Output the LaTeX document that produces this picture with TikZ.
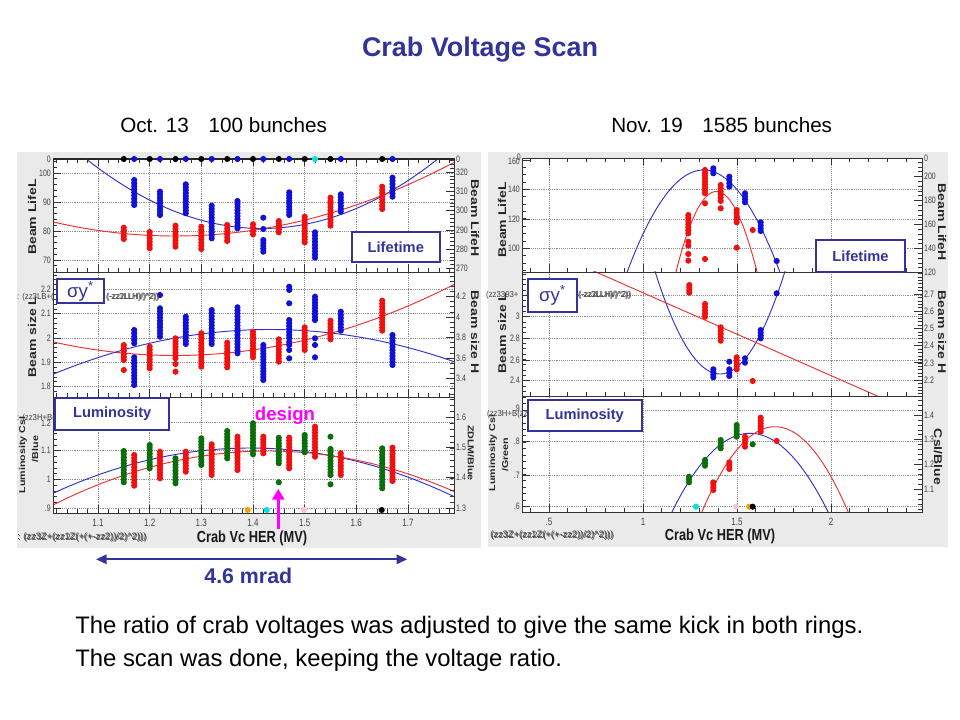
\documentclass[tikz,border=0pt]{standalone}
\usepackage{fontspec}
\setmainfont{Liberation Sans}
\usetikzlibrary{arrows.meta}
\definecolor{dkblue}{HTML}{333399}
\definecolor{panelgray}{HTML}{EAEAEA}
\definecolor{ptred}{HTML}{F01010}
\definecolor{ptblue}{HTML}{1010D8}
\definecolor{ptgreen}{HTML}{0A6E0A}
\definecolor{fitblue}{HTML}{3030D0}
\definecolor{fitred}{HTML}{F03030}
\definecolor{lblgray}{HTML}{404040}
\definecolor{mag}{HTML}{FF00FF}
\definecolor{ptcyan}{HTML}{00E0E0}
\definecolor{ptorange}{HTML}{F0A000}
\definecolor{ptpink}{HTML}{F4C8D0}

\newcommand{\dcol}[4]{%
  \pgfmathtruncatemacro{\nn}{max(0,round((#4-#3)/3))}%
  \foreach \kk in {0,...,\nn}{%
    \fill[#1] (#2,{#3+(#4-#3)*\kk/max(1,\nn)}) circle[radius=2.3pt];}}
\newcommand{\dpt}[3]{\fill[#1] (#2,#3) circle[radius=2.3pt];}

\begin{document}
\begin{tikzpicture}[x=0.75pt,y=-0.75pt,
  tl/.style={font=\fontsize{7}{8}\selectfont, text=lblgray, inner sep=0pt, xscale=0.75},
  ttl/.style={font=\bfseries\fontsize{10.5}{12}\selectfont, text=black!85, inner sep=0pt, xscale=0.8},
  ttls/.style={font=\bfseries\fontsize{8}{9}\selectfont, text=black!85, inner sep=0pt, xscale=0.8},
  xttl/.style={font=\bfseries\fontsize{12}{14}\selectfont, text=black!90, inner sep=0pt, xscale=0.8},
  gridln/.style={black!45, densely dotted, line width=0.4pt},
  frm/.style={black!80, line width=0.5pt},
  fitc/.style={line width=0.7pt},
  lbox/.style={draw=dkblue, line width=1.4pt, fill=white},
  lboxtxt/.style={text=dkblue, font=\bfseries\fontsize{11}{13}\selectfont, inner sep=0pt},
  junk/.style={font=\fontsize{6.5}{7}\selectfont, text=lblgray, inner sep=0pt, anchor=west, xscale=0.9},
  junkx/.style={font=\fontsize{7}{8}\selectfont, text=lblgray, inner sep=0pt, anchor=west, xscale=1.0},
  bigtxt/.style={font=\fontsize{17.9}{20}\selectfont, anchor=base west, inner sep=0pt},
  subtxt/.style={font=\fontsize{15.5}{18}\selectfont, anchor=base west, inner sep=0pt},
]
\useasboundingbox (0,0) rectangle (960,720);
\fill[white] (0,0) rectangle (960,720);

% ===== titles =====
\node[font=\bfseries\fontsize{20.2}{24}\selectfont, text=dkblue, anchor=base, inner sep=0pt] (title) at (480,56.7) {Crab Voltage Scan};
\node[subtxt] (oct) at (120,133) {Oct. 13};
\node[subtxt] (octb) at (208.3,133) {100 bunches};
\node[subtxt] (nov) at (611,133) {Nov. 19};
\node[subtxt] (novb) at (702,133) {1585 bunches};

% ================= LEFT PANEL =================
\fill[panelgray] (17,152) rectangle (481,548);
\fill[white] (53,158) rectangle (454,513);
\foreach \xx in {98,149.7,201.3,253,304.7,356.3,408}
  {\draw[gridln] (\xx,159) -- (\xx,513);}
\foreach \yy in {173,202,231,260,289.4,313.7,338,362.3,386.6,422,450.7,479.4,508.1}
  {\draw[gridln] (53,\yy) -- (454,\yy);}

\begin{scope}
\clip (53,159) rectangle (454,272);
\draw[fitc,fitblue] plot[domain=53:454,samples=90] (\x,{228.5-22.5*((\x-262)/100)*((\x-262)/100)});
\draw[fitc,fitred] plot[domain=53:454,samples=90] (\x,{236-9.45*((\x-175)/100)*((\x-175)/100)});
\end{scope}
\begin{scope}
\clip (53,272) rectangle (454,397);
\draw[fitc,fitred] plot[domain=53:454,samples=90] (\x,{355.5-9.12*((\x-175)/100)*((\x-175)/100)});
\draw[fitc,fitblue] plot[domain=53:454,samples=90] (\x,{329.5+9.5*((\x-270)/100)*((\x-270)/100)});
\end{scope}
\begin{scope}
\clip (53,397) rectangle (454,513);
\draw[fitc,fitblue] plot[domain=53:454,samples=90] (\x,{448+11.67*((\x-250)/100)*((\x-250)/100)});
\draw[fitc,fitred] plot[domain=53:454,samples=90] (\x,{451+11.68*((\x-268)/100)*((\x-268)/100)});
\end{scope}

% frames and ticks
\draw[frm] (53,158) rectangle (454,513);
\draw[frm] (53,272) -- (454,272);
\draw[frm] (53,397) -- (454,397);
\draw[black!85, line width=0.9pt] (53,159) -- (454,159);
\foreach \yb in {272,397,513}{
  \foreach \xx in {98,149.7,...,410} {\draw[frm] (\xx,\yb) -- ++(0,-8);}
  \foreach \xx in {56.7,67.03,...,452} {\draw[frm] (\xx,\yb) -- ++(0,-4);}
}
\foreach \xx in {56.7,67.03,...,452} {\draw[frm] (\xx,159) -- ++(0,4);}
\foreach \xx in {98,149.7,...,410} {\draw[frm] (\xx,159) -- ++(0,7);}
% left y ticks
\foreach \yy in {173,202,231,260} {\draw[frm] (53,\yy) -- ++(8,0);}
\foreach \yy in {161.4,167.2,...,271} {\draw[frm] (53,\yy) -- ++(4,0);}
\foreach \yy in {289.4,313.7,338,362.3,386.6} {\draw[frm] (53,\yy) -- ++(8,0);}
\foreach \yy in {274.9,279.76,...,396} {\draw[frm] (53,\yy) -- ++(4,0);}
\foreach \yy in {422,450.7,479.4,508.1} {\draw[frm] (53,\yy) -- ++(8,0);}
\foreach \yy in {399.04,404.78,...,512} {\draw[frm] (53,\yy) -- ++(4,0);}
% right y ticks
\foreach \yy in {172,191.3,210.6,229.9,249.2,268.5} {\draw[frm] (454,\yy) -- ++(-8,0);}
\foreach \yy in {160.4,164.26,...,271} {\draw[frm] (454,\yy) -- ++(-4,0);}
\foreach \yy in {296.5,317,337.5,358,378.5} {\draw[frm] (454,\yy) -- ++(-8,0);}
\foreach \yy in {276,281.125,...,396} {\draw[frm] (454,\yy) -- ++(-4,0);}
\foreach \yy in {417,447.3,477.6,508} {\draw[frm] (454,\yy) -- ++(-8,0);}
\foreach \yy in {399.5,405.56,...,512} {\draw[frm] (454,\yy) -- ++(-4,0);}

% ---- left top data ----
\foreach \xx in {123.8,149.7,175.5,201.3,227.2,253,278.8,304.7,330.5,382.2} {\dpt{black}{\xx}{159}}
\foreach \xx in {134.2,160,185.8,211.7,237.5,263.3,289.2,340.8,392.5} {\dpt{ptblue}{\xx}{159}}
\dpt{ptcyan}{315}{159}
\dcol{ptred}{123.8}{227.7}{239}
\dcol{ptred}{149.7}{232}{248.3}
\dcol{ptred}{175.5}{225.7}{246.7}
\dcol{ptred}{201.3}{226.7}{249}
\dcol{ptred}{227.2}{225}{241}
\dcol{ptred}{253}{224.3}{234.3}
\dcol{ptred}{278.8}{221}{232.3}
\dcol{ptred}{304.7}{216.7}{242.3}
\dcol{ptred}{330.5}{197.7}{225.7}
\dcol{ptred}{382.2}{186.7}{209}
\dcol{ptblue}{134.2}{180}{205}
\dcol{ptblue}{160}{191.7}{215}
\dcol{ptblue}{185.8}{184.3}{213.3}
\dcol{ptblue}{211.7}{205.7}{238.3}
\dcol{ptblue}{237.5}{201}{228.3}
\dpt{ptblue}{263.3}{217.7}
\dpt{ptblue}{263.3}{229}
\dcol{ptblue}{263.3}{240}{251.7}
\dcol{ptblue}{289.2}{192.3}{215}
\dcol{ptblue}{315}{232.3}{257.7}
\dcol{ptblue}{340.8}{194.3}{211.7}
\dcol{ptblue}{392.5}{177.7}{196.7}

% ---- left middle data ----
\dcol{ptred}{123.8}{345}{360}
\dpt{ptred}{123.8}{370}
\dcol{ptred}{149.7}{346.7}{368.3}
\dcol{ptred}{175.5}{338.3}{358.3}
\dpt{ptred}{175.5}{364}
\dpt{ptred}{175.5}{371.7}
\dcol{ptred}{201.3}{333.3}{366.7}
\dcol{ptred}{227.2}{342.7}{367.3}
\dcol{ptred}{253}{331.7}{357.3}
\dcol{ptred}{278.8}{339.3}{361.7}
\dcol{ptred}{304.7}{327.3}{350}
\dcol{ptred}{330.5}{320.7}{339.3}
\dcol{ptred}{382.2}{300.7}{330.7}
\dcol{ptblue}{134.2}{330}{343.3}
\dcol{ptblue}{134.2}{357.3}{385}
\dpt{ptblue}{160}{295}
\dcol{ptblue}{160}{308.3}{336.7}
\dcol{ptblue}{185.8}{316.7}{344}
\dcol{ptblue}{211.7}{310}{344}
\dcol{ptblue}{237.5}{307.3}{353.3}
\dcol{ptblue}{263.3}{345}{380}
\dcol{ptblue}{289.2}{286.7}{290}
\dpt{ptblue}{289.2}{303.3}
\dcol{ptblue}{289.2}{320}{338}
\dcol{ptblue}{289.2}{342}{345}
\dpt{ptblue}{289.2}{350}
\dpt{ptblue}{289.2}{358.3}
\dcol{ptblue}{315}{296.7}{320}
\dpt{ptblue}{315}{338.3}
\dpt{ptblue}{315}{345}
\dpt{ptblue}{315}{357.3}
\dcol{ptblue}{340.8}{311.7}{330.7}
\dcol{ptblue}{392.5}{335}{365}

% ---- left bottom data ----
\dcol{ptgreen}{123.8}{451}{482.3}
\dcol{ptgreen}{149.7}{445}{468.3}
\dcol{ptgreen}{175.5}{458.3}{483.3}
\dcol{ptgreen}{201.3}{438.3}{465}
\dcol{ptgreen}{227.2}{431}{458.3}
\dcol{ptgreen}{253}{423.3}{454.3}
\dcol{ptgreen}{278.8}{437.7}{463.3}
\dpt{ptgreen}{278.8}{482.3}
\dcol{ptgreen}{304.7}{435}{452.3}
\dpt{ptgreen}{330.5}{436.7}
\dcol{ptgreen}{330.5}{449}{475}
\dpt{ptgreen}{330.5}{484.3}
\dcol{ptgreen}{382.2}{448.3}{488.3}
\dcol{ptred}{134.2}{455}{485.7}
\dcol{ptred}{160}{451.7}{478.3}
\dcol{ptred}{185.8}{451.7}{471.7}
\dcol{ptred}{211.7}{444.3}{475}
\dcol{ptred}{237.5}{436.7}{470}
\dcol{ptred}{263.3}{436.7}{453.3}
\dcol{ptred}{289.2}{437.7}{468.3}
\dcol{ptred}{315}{426.7}{456.7}
\dcol{ptred}{340.8}{453.3}{475}
\dcol{ptred}{392.5}{447.7}{481}
\dpt{ptorange}{247.7}{510}
\dpt{ptcyan}{266.7}{510}
\dpt{ptpink}{304}{510}
\dpt{black}{381.7}{510}

% ---- left tick labels ----
\node[tl,anchor=east] (lt0) at (51,159) {0};
\node[tl,anchor=east] (lt1) at (51,173) {100};
\node[tl,anchor=east] (lt2) at (51,202) {90};
\node[tl,anchor=east] (lt3) at (51,231) {80};
\node[tl,anchor=east] (lt4) at (51,260) {70};
\node[tl,anchor=east] (lm1) at (51,289.4) {2.2};
\node[tl,anchor=east] (lm2) at (51,313.7) {2.1};
\node[tl,anchor=east] (lm3) at (51,338) {2};
\node[tl,anchor=east] (lm4) at (51,362.3) {1.9};
\node[tl,anchor=east] (lm5) at (51,386.6) {1.8};
\node[tl,anchor=east] (lb1) at (51,423) {1.2};
\node[tl,anchor=east] (lb2) at (51,450.7) {1.1};
\node[tl,anchor=east] (lb3) at (51,479.4) {1};
\node[tl,anchor=east] (lb4) at (51,508.1) {.9};
\node[tl,anchor=west] (rt0) at (456,159) {0};
\node[tl,anchor=west] (rt1) at (456,172) {320};
\node[tl,anchor=west] (rt2) at (456,191.3) {310};
\node[tl,anchor=west] (rt3) at (456,210.6) {300};
\node[tl,anchor=west] (rt4) at (456,229.9) {290};
\node[tl,anchor=west] (rt5) at (456,249.2) {280};
\node[tl,anchor=west] (rt6) at (456,268.5) {270};
\node[tl,anchor=west] (rm1) at (456,296.5) {4.2};
\node[tl,anchor=west] (rm2) at (456,317) {4};
\node[tl,anchor=west] (rm3) at (456,337.5) {3.8};
\node[tl,anchor=west] (rm4) at (456,358) {3.6};
\node[tl,anchor=west] (rm5) at (456,378.5) {3.4};
\node[tl,anchor=west] (rb1) at (456,417) {1.6};
\node[tl,anchor=west] (rb2) at (456,447.3) {1.5};
\node[tl,anchor=west] (rb3) at (456,477.6) {1.4};
\node[tl,anchor=west] (rb4) at (456,508) {1.3};
\foreach \xx/\lab [count=\i] in {98/1.1,149.7/1.2,201.3/1.3,253/1.4,304.7/1.5,356.3/1.6,408/1.7}
  {\node[tl,font=\fontsize{8}{9}\selectfont] (lx\i) at (\xx,523) {\lab};}
% axis titles
\node[ttl,rotate=90] (lyt1) at (32,217) {Beam LifeL};
\node[ttl,rotate=90] (lyt2) at (32,337) {Beam size L};
\node[ttls,rotate=90] (lyt3) at (23,455) {Luminosity CsI};
\node[ttls,rotate=90] (lyt4) at (35,449) {/Blue};
\node[ttl,rotate=-90] (lyr1) at (475,218) {Beam LifeH};
\node[ttl,rotate=-90] (lyr2) at (475,332) {Beam size H};
\node[ttls,rotate=-90] (lyr3) at (471,453) {ZDLM/Blue};
\node[xttl] (lxt) at (252,538) {Crab Vc HER (MV)};
% junk formula texts
\node[junk] (lj1) at (17,297) {: (zz3LB+(};
\node[junk] (lj1b) at (106,297) {(-zz3LLH)/)\textasciicircum 2))};
\node[junk] (lj1c) at (107,297.6) {(-zz2LLH)/)\textasciicircum 2))};
\node[junk] (lj2) at (17,418) {: (zz3H+B(zz3H};
\node[junkx] (lj3) at (17,537) {: (zz3Z+(zz1Z(+(+-zz2))/2)\textasciicircum 2)))};
\node[junkx] (lj3b) at (18,537.6) {: (zz3Z+(zz2Z(+(+-zz2))/2)\textasciicircum 2)))};
% label boxes
\draw[lbox] (351.7,232.3) rectangle (440,262.3);
\node[lboxtxt] (lbl1) at (395.8,247.3) {Lifetime};
\draw[lbox] (56.7,279.3) rectangle (104.3,303.3);
\node[text=dkblue, font=\fontsize{14}{16}\selectfont, inner sep=0pt] (lbl2) at (80.5,291.3) {σy\textsuperscript{*}};
\draw[lbox] (55,398.3) rectangle (169.3,430);
\node[lboxtxt] (lbl3) at (112.2,414.2) {Luminosity};
% design annotation
\node[font=\bfseries\fontsize{14}{16}\selectfont, text=mag, inner sep=0pt] (design) at (285,416) {design};
\coordinate (dA) at (278.3,529);
\coordinate (dB) at (278.3,489);
\draw[mag, line width=2.5pt, -{Triangle[length=8pt,width=9pt]}] (dA) -- (dB);
% 4.6 mrad
\coordinate (mA) at (96,559.3);
\coordinate (mB) at (407.3,559.3);
\draw[dkblue, line width=1.5pt, {Triangle[length=8pt,width=7pt]}-{Triangle[length=8pt,width=7pt]}] (mA) -- (mB);
\node[font=\bfseries\fontsize{16}{19}\selectfont, text=dkblue, inner sep=0pt] (mrad) at (248.3,576) {4.6 mrad};

% ================= RIGHT PANEL =================
\fill[panelgray] (488,152) rectangle (948,547);
\fill[white] (522,158) rectangle (922,512);
\foreach \xx in {549,643,737,831}
  {\draw[gridln] (\xx,158) -- (\xx,512);}
\foreach \yy in {189.5,219,248.5,295.4,316.7,338.3,360,380.7,410,441.7,475,506.7}
  {\draw[gridln] (522,\yy) -- (922,\yy);}

\begin{scope}
\clip (522,158) rectangle (922,272);
\draw[fitc,fitblue] plot[domain=620:790,samples=80] (\x,{170+175*((\x-703.5)/100)*((\x-703.5)/100)});
\draw[fitc,fitred] plot[domain=670:764,samples=80] (\x,{191.5+490*((\x-716.5)/100)*((\x-716.5)/100)});
\end{scope}
\begin{scope}
\clip (522,272) rectangle (922,396);
\draw[fitc,fitblue] plot[domain=648:792,samples=80] (\x,{374-243*((\x-720)/100)*((\x-720)/100)});
\coordinate (rl1) at (590,269.4);
\coordinate (rl2) at (880,397.2);
\draw[fitc,fitred] (rl1) -- (rl2);
\end{scope}
\begin{scope}
\clip (522,396) rectangle (922,512);
\draw[fitc,fitblue] plot[domain=665:835,samples=80] (\x,{433.3+129*((\x-750)/100)*((\x-750)/100)});
\draw[fitc,fitred] plot[domain=695:855,samples=80] (\x,{426.7+159.3*((\x-775)/100)*((\x-775)/100)});
\end{scope}

\draw[frm] (522,158) rectangle (922,512);
\draw[frm] (522,272) -- (922,272);
\draw[frm] (522,396) -- (922,396);
\foreach \yb in {272,396,512}{
  \foreach \xx in {549,643,737,831} {\draw[frm] (\xx,\yb) -- ++(0,-8);}
  \foreach \xx in {530.2,549,...,921} {\draw[frm] (\xx,\yb) -- ++(0,-4);}
}
\foreach \xx in {549,643,737,831} {\draw[frm] (\xx,158) -- ++(0,7);}
\foreach \xx in {530.2,549,...,921} {\draw[frm] (\xx,158) -- ++(0,4);}
% left y ticks
\foreach \yy in {160,189.5,219,248.5} {\draw[frm] (522,\yy) -- ++(8,0);}
\foreach \yy in {167.35,174.7,...,271} {\draw[frm] (522,\yy) -- ++(4,0);}
\foreach \yy in {295.4,316.7,338.3,360,380.7} {\draw[frm] (522,\yy) -- ++(8,0);}
\foreach \yy in {274.1,279.43,...,395} {\draw[frm] (522,\yy) -- ++(4,0);}
\foreach \yy in {410,441.7,475,506.7} {\draw[frm] (522,\yy) -- ++(8,0);}
\foreach \yy in {397.1,403.54,...,511} {\draw[frm] (522,\yy) -- ++(4,0);}
% right y ticks
\foreach \yy in {176.5,200.5,224.5,248.5,272} {\draw[frm] (922,\yy) -- ++(-8,0);}
\foreach \yy in {162.1,166.9,...,271} {\draw[frm] (922,\yy) -- ++(-4,0);}
\foreach \yy in {294,311.2,328.4,345.6,362.8,380} {\draw[frm] (922,\yy) -- ++(-8,0);}
\foreach \yy in {273.4,276.84,...,395} {\draw[frm] (922,\yy) -- ++(-4,0);}
\foreach \yy in {415,439.7,464.4,489.1} {\draw[frm] (922,\yy) -- ++(-8,0);}
\foreach \yy in {400.2,405.14,...,511} {\draw[frm] (922,\yy) -- ++(-4,0);}

% ---- right top data ----
\dcol{ptblue}{713.3}{168.3}{173.3}
\dcol{ptblue}{729.3}{176.7}{186.7}
\dcol{ptblue}{745}{193.3}{202.3}
\dcol{ptblue}{760.7}{222.3}{231}
\dpt{ptblue}{776.7}{261}
\dcol{ptred}{688.3}{215}{233.3}
\dcol{ptred}{688.3}{241.7}{245.7}
\dpt{ptred}{688.3}{254}
\dpt{ptred}{688.3}{260.7}
\dcol{ptred}{705}{170}{193.3}
\dpt{ptred}{705}{203.3}
\dpt{ptred}{705}{259}
\dcol{ptred}{720.7}{185}{201}
\dpt{ptred}{720.7}{208.3}
\dcol{ptred}{736.7}{210}{222.3}
\dpt{ptred}{736.7}{247.7}
\dpt{ptred}{752.7}{230}
% ---- right middle data ----
\dcol{ptred}{689.3}{285}{292.7}
\dcol{ptred}{705}{304}{316.7}
\dcol{ptred}{720.7}{327.3}{340.7}
\dcol{ptred}{736.7}{357.3}{369.3}
\dpt{ptred}{752.7}{381}
\dcol{ptblue}{713.3}{369.3}{377.3}
\dpt{ptblue}{729.3}{361.7}
\dcol{ptblue}{729.3}{369.3}{376}
\dcol{ptblue}{745}{358.3}{362.7}
\dcol{ptblue}{760.7}{330}{338.3}
\dpt{ptblue}{776.7}{293.3}
% ---- right bottom data ----
\dcol{ptgreen}{689}{476.7}{482.3}
\dcol{ptgreen}{705}{460}{465.7}
\dcol{ptgreen}{720.7}{440}{448.3}
\dcol{ptgreen}{736.7}{425}{436.7}
\dpt{ptgreen}{752.7}{444.3}
\dcol{ptred}{713.3}{482.3}{490}
\dcol{ptred}{729.3}{462.3}{469}
\dcol{ptred}{745}{436.7}{446.7}
\dcol{ptred}{760.7}{417.7}{431.7}
\dpt{ptred}{776.7}{441}
\dpt{ptcyan}{696}{506.7}
\dpt{ptpink}{736}{506.7}
\dpt{ptorange}{749.3}{506.7}
\dpt{black}{752.7}{506.7}

% ---- right tick labels ----
\node[tl,anchor=east] (Rlt0) at (521,157) {0};
\node[tl,anchor=east] (Rlt1) at (520,161) {160};
\node[tl,anchor=east] (Rlt2) at (520,189.5) {140};
\node[tl,anchor=east] (Rlt3) at (520,219) {120};
\node[tl,anchor=east] (Rlt4) at (520,248.5) {100};
\node[tl,anchor=east] (Rlm1) at (520,316.7) {3};
\node[tl,anchor=east] (Rlm2) at (520,338.3) {2.8};
\node[tl,anchor=east] (Rlm3) at (520,360) {2.6};
\node[tl,anchor=east] (Rlm4) at (520,380.7) {2.4};
\node[tl,anchor=east] (Rlb1) at (520,408) {.9};
\node[tl,anchor=east] (Rlb2) at (520,441.7) {.8};
\node[tl,anchor=east] (Rlb3) at (520,475) {.7};
\node[tl,anchor=east] (Rlb4) at (520,506.7) {.6};
\node[tl,anchor=west] (Rrt0) at (924,158) {0};
\node[tl,anchor=west] (Rrt1) at (924,176.5) {200};
\node[tl,anchor=west] (Rrt2) at (924,200.5) {180};
\node[tl,anchor=west] (Rrt3) at (924,224.5) {160};
\node[tl,anchor=west] (Rrt4) at (924,248.5) {140};
\node[tl,anchor=west] (Rrt5) at (924,272) {120};
\node[tl,anchor=west] (Rrm1) at (924,294) {2.7};
\node[tl,anchor=west] (Rrm2) at (924,311.2) {2.6};
\node[tl,anchor=west] (Rrm3) at (924,328.4) {2.5};
\node[tl,anchor=west] (Rrm4) at (924,345.6) {2.4};
\node[tl,anchor=west] (Rrm5) at (924,362.8) {2.3};
\node[tl,anchor=west] (Rrm6) at (924,380) {2.2};
\node[tl,anchor=west] (Rrb1) at (924,415) {1.4};
\node[tl,anchor=west] (Rrb2) at (924,439.7) {1.3};
\node[tl,anchor=west] (Rrb3) at (924,464.4) {1.2};
\node[tl,anchor=west] (Rrb4) at (924,489.1) {1.1};
\foreach \xx/\lab [count=\i] in {549/.5,643/1,737/1.5,831/2}
  {\node[tl,font=\fontsize{8}{9}\selectfont] (Rx\i) at (\xx,522) {\lab};}
\node[ttl,rotate=90] (Ryt1) at (502,220) {Beam LifeL};
\node[ttl,rotate=90] (Ryt2) at (502,333) {Beam size L};
\node[ttls,rotate=90] (Ryt3) at (493,453) {Luminosity CsI};
\node[ttls,rotate=90] (Ryt4) at (505,455) {/Green};
\node[ttl,rotate=-90] (Ryr1) at (942,222) {Beam LifeH};
\node[ttl,rotate=-90] (Ryr2) at (942,332) {Beam size H};
\node[ttl,rotate=-90] (Ryr3) at (938,457) {CsI/Blue};
\node[xttl] (Rxt) at (720,536.7) {Crab Vc HER (MV)};
\node[junk] (Rj1) at (486,295) {(zz3393+};
\node[junk] (Rj1b) at (578,295) {(-zz3LLH)/)\textasciicircum 2))};
\node[junk] (Rj1c) at (579,295.6) {(-zz2LLH)/)\textasciicircum 2))};
\node[junk] (Rj2) at (487,414) {(zz3H+B(zz3H};
\node[junkx] (Rj3) at (490,535) {(zz3Z+(zz1Z(+(+-zz2))/2)\textasciicircum 2)))};
\node[junkx] (Rj3b) at (491,535.6) {(zz3Z+(zz2Z(+(+-zz2))/2)\textasciicircum 2)))};
\draw[lbox] (816,240) rectangle (905,272.3);
\node[lboxtxt] (Rlbl1) at (860.5,256.2) {Lifetime};
\draw[lbox] (528.3,279.3) rectangle (576.7,311.7);
\node[text=dkblue, font=\fontsize{14}{16}\selectfont, inner sep=0pt] (Rlbl2) at (552.5,295.5) {σy\textsuperscript{*}};
\draw[lbox] (527.7,400) rectangle (641.7,431);
\node[lboxtxt] (Rlbl3) at (584.7,415.5) {Luminosity};

% ===== bottom text =====
\node[bigtxt] (txt1) at (75,633.3) {The ratio of crab voltages was adjusted to give the same kick in both rings.};
\node[bigtxt] (txt2) at (75,666) {The scan was done, keeping the voltage ratio.};
\end{tikzpicture}
\end{document}
